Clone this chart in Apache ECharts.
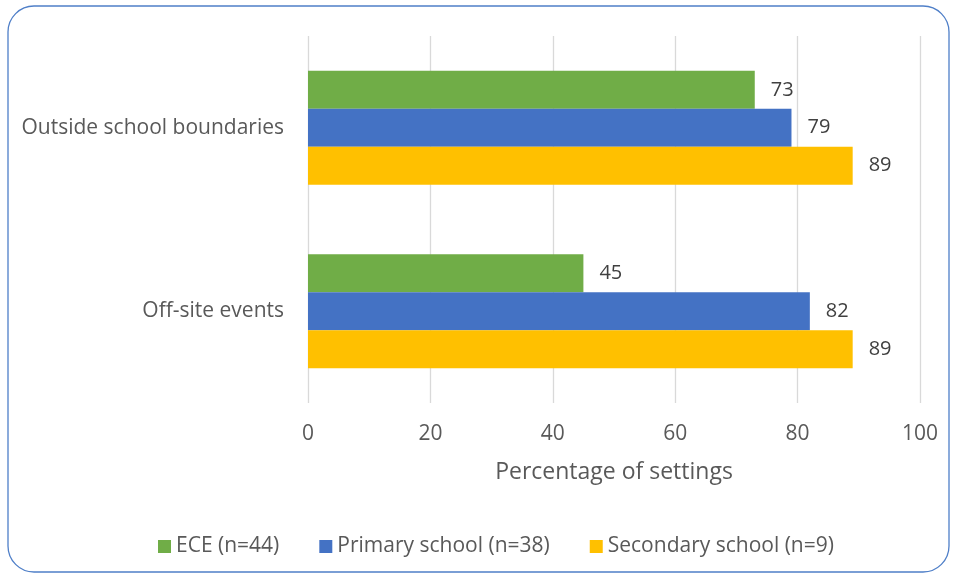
<!DOCTYPE html>
<html>
<head>
<meta charset="utf-8">
<script src="https://cdn.jsdelivr.net/npm/echarts@6/dist/echarts.min.js"></script>
<style>html,body{margin:0;padding:0;background:#fff;}#chart{width:957px;height:578px;}</style>
</head>
<body>
<div id="chart"></div>
<script>
const categories = ["Outside school boundaries", "Off-site events"];
const seriesNames = ["ECE (n=44)", "Primary school (n=38)", "Secondary school (n=9)"];
const eceValues = [73, 45];
const primaryValues = [79, 82];
const secondaryValues = [89, 89];
const xTicks = [0, 20, 40, 60, 80, 100];
const colors = ["#70AD47", "#4472C4", "#FFC000"];

const FONT = "'Open Sans', 'Liberation Sans', sans-serif";
const chart = echarts.init(document.getElementById('chart'));
const values = [eceValues, primaryValues, secondaryValues];

const option = {
  animation: false,
  textStyle: { fontFamily: FONT },
  graphic: [{
    type: 'rect',
    shape: { x: 8, y: 6, width: 941, height: 566, r: 26 },
    style: { fill: 'none', stroke: '#4F7FC8', lineWidth: 1.3 },
    z: 100
  }],
  grid: { left: 308, right: 37, top: 36, bottom: 175 },
  legend: {
    bottom: 16,
    left: 153,
    itemWidth: 13, itemHeight: 13, itemGap: 40,
    icon: 'rect',
    textStyle: { fontSize: 21, color: '#595959', fontFamily: FONT },
    data: seriesNames
  },
  xAxis: {
    type: 'value', min: xTicks[0], max: xTicks[xTicks.length - 1], interval: 20,
    name: 'Percentage of settings', nameLocation: 'middle', nameGap: 58,
    nameTextStyle: { fontSize: 23, color: '#595959', fontFamily: FONT },
    axisLine: { show: false }, axisTick: { show: false },
    axisLabel: { fontSize: 21, color: '#595959', margin: 21, fontFamily: FONT },
    splitLine: { lineStyle: { color: '#D9D9D9', width: 1.3 } }
  },
  yAxis: {
    type: 'category', data: categories, inverse: true,
    axisLine: { show: false }, axisTick: { show: false },
    axisLabel: { fontSize: 21, color: '#595959', margin: 24, fontFamily: FONT }
  },
  series: seriesNames.map((n, i) => ({
    name: n, type: 'bar', data: values[i],
    itemStyle: { color: colors[i] },
    barGap: '0%', barCategoryGap: '38%',
    label: { show: true, position: 'right', distance: 16, fontSize: 20, color: '#404040', fontFamily: FONT }
  }))
};
chart.setOption(option);
</script>
</body>
</html>
